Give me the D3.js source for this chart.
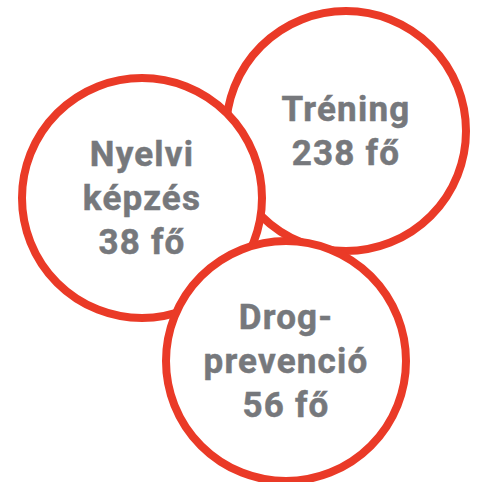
<!DOCTYPE html>
<html>
<head>
<meta charset="utf-8">
<script src="https://cdn.jsdelivr.net/npm/d3@7"></script>
<style>
  html, body { margin: 0; padding: 0; background: #fff; }
  svg text { font-family: Roboto, "DejaVu Sans", sans-serif; font-weight: 700; }
</style>
</head>
<body>
<div id="chart"></div>
<script>
// data
const categories = ["Tréning", "Nyelvi képzés", "Drog-prevenció"];
const labelLines = [["Tréning"], ["Nyelvi", "képzés"], ["Drog-", "prevenció"]];
const values = [238, 38, 56];
const unit = "fő";

// layout (drawing order: Tréning behind, Drog-prevenció on top)
const width = 477, height = 482;
const centers = [[346, 131], [142, 198], [286, 361]];
const radius = 120;
const lineHeight = 44;

const svg = d3.select("#chart")
    .append("svg")
    .attr("width", width)
    .attr("height", height);

const nodes = categories.map((c, i) => ({
    name: c,
    lines: labelLines[i].concat([`${values[i]} ${unit}`]),
    cx: centers[i][0],
    cy: centers[i][1]
}));

const g = svg.selectAll("g.bubble")
    .data(nodes)
    .enter()
    .append("g")
    .attr("class", "bubble")
    .attr("transform", d => `translate(${d.cx},${d.cy})`);

g.append("circle")
    .attr("r", radius)
    .attr("fill", "#fff")
    .attr("stroke", "#ea3a27")
    .attr("stroke-width", 8);

g.each(function (d) {
    const n = d.lines.length;
    const top = -(n - 1) * lineHeight / 2;
    d3.select(this).selectAll("text")
        .data(d.lines)
        .enter()
        .append("text")
        .attr("x", 0)
        .attr("y", (_, i) => top + i * lineHeight)
        .attr("dy", "0.35em")
        .attr("text-anchor", "middle")
        .attr("font-size", 35)
        .attr("letter-spacing", 1.2)
        .attr("fill", "#76787c")
        .attr("stroke", "#76787c")
        .attr("stroke-width", 0.5)
        .text(t => t);
});
</script>
</body>
</html>
